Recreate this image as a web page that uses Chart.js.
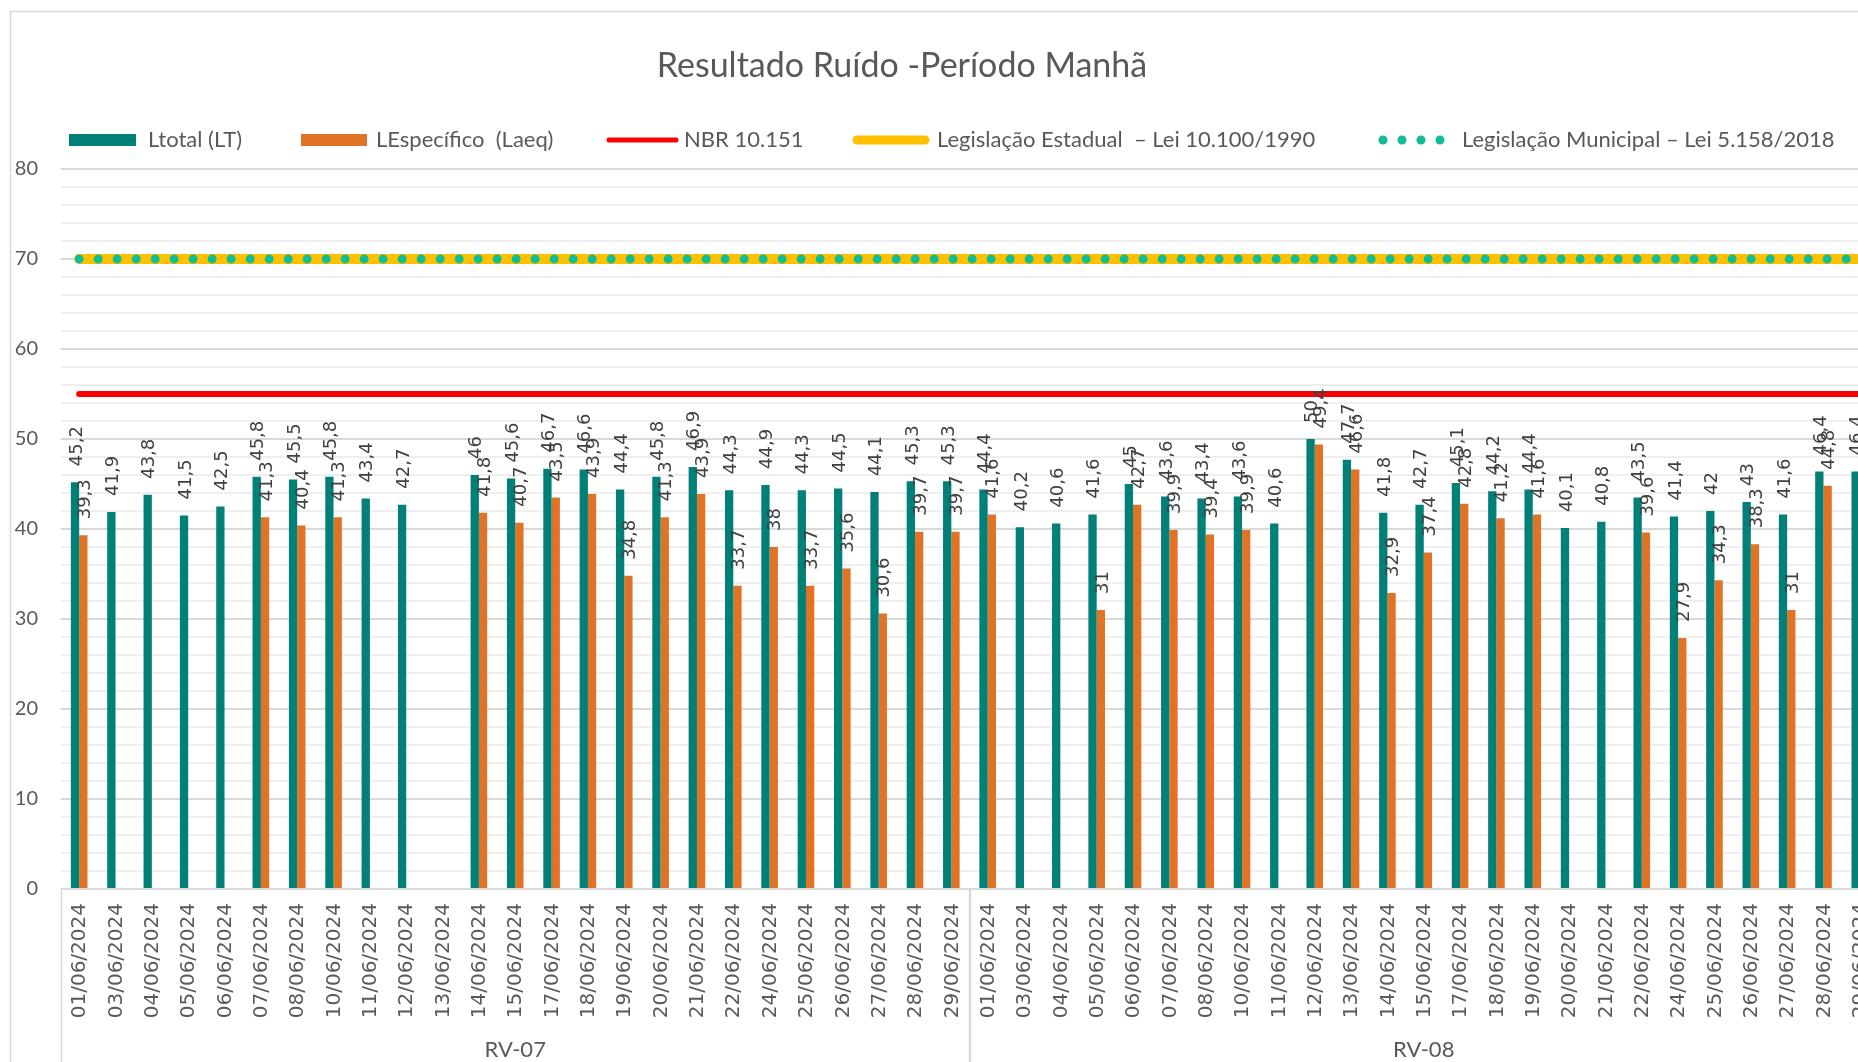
<!DOCTYPE html>
<html lang="pt-BR">
<head>
<meta charset="utf-8">
<title>Resultado Ruído - Período Manhã</title>
<script src="https://cdn.jsdelivr.net/npm/chart.js@4.4.1/dist/chart.umd.min.js"></script>
<style>
  html, body { margin: 0; padding: 0; background: #ffffff; overflow: hidden; }
  canvas { display: block; }
</style>
</head>
<body>
<canvas id="chart" width="1900" height="1062"></canvas>
<script>
// ---- Data ---------------------------------------------------------------
const chartTitle = 'Resultado Ruído -Período Manhã';

const groups = ['RV-07', 'RV-08'];

const datesRV07 = ['01/06/2024', '03/06/2024', '04/06/2024', '05/06/2024', '06/06/2024',
  '07/06/2024', '08/06/2024', '10/06/2024', '11/06/2024', '12/06/2024', '13/06/2024',
  '14/06/2024', '15/06/2024', '17/06/2024', '18/06/2024', '19/06/2024', '20/06/2024',
  '21/06/2024', '22/06/2024', '24/06/2024', '25/06/2024', '26/06/2024', '27/06/2024',
  '28/06/2024', '29/06/2024'];

const datesRV08 = ['01/06/2024', '03/06/2024', '04/06/2024', '05/06/2024', '06/06/2024',
  '07/06/2024', '08/06/2024', '10/06/2024', '11/06/2024', '12/06/2024', '13/06/2024',
  '14/06/2024', '15/06/2024', '17/06/2024', '18/06/2024', '19/06/2024', '20/06/2024',
  '21/06/2024', '22/06/2024', '24/06/2024', '25/06/2024', '26/06/2024', '27/06/2024',
  '28/06/2024', '29/06/2024'];

// Ltotal (LT), dB(A)
const ltotalRV07 = [45.2, 41.9, 43.8, 41.5, 42.5, 45.8, 45.5, 45.8, 43.4, 42.7, null,
  46, 45.6, 46.7, 46.6, 44.4, 45.8, 46.9, 44.3, 44.9, 44.3, 44.5, 44.1, 45.3, 45.3];
const ltotalRV08 = [44.4, 40.2, 40.6, 41.6, 45, 43.6, 43.4, 43.6, 40.6, 50, 47.7,
  41.8, 42.7, 45.1, 44.2, 44.4, 40.1, 40.8, 43.5, 41.4, 42, 43, 41.6, 46.4, 46.4];

// LEspecífico (Laeq), dB(A)
const laeqRV07 = [39.3, null, null, null, null, 41.3, 40.4, 41.3, null, null, null,
  41.8, 40.7, 43.5, 43.9, 34.8, 41.3, 43.9, 33.7, 38, 33.7, 35.6, 30.6, 39.7, 39.7];
const laeqRV08 = [41.6, null, null, 31, 42.7, 39.9, 39.4, 39.9, null, 49.4, 46.6,
  32.9, 37.4, 42.8, 41.2, 41.6, null, null, 39.6, 27.9, 34.3, 38.3, 31, 44.8, 44.8];

// Reference limits, dB(A)
const nbrLimit = 55;        // NBR 10.151
const stateLimit = 70;      // Lei 10.100/1990
const municipalLimit = 70;  // Lei 5.158/2018

const yTickLabels = [0, 10, 20, 30, 40, 50, 60, 70, 80];

// ---- Derived tables -----------------------------------------------------
const categories = datesRV07.concat(datesRV08);
const groupSizes = [datesRV07.length, datesRV08.length];
const ltotal = ltotalRV07.concat(ltotalRV08);
const laeq = laeqRV07.concat(laeqRV08);
// a limit holds the same value on every date
const limitSeries = v => categories.map(() => v);

// ---- Styles -------------------------------------------------------------
const TEXT = '#595959';
const LABEL = '#404040';
const TEAL = '#008077';
const ORANGE = '#E07325';
const RED = '#FF0000';
const GOLD = '#FFC000';
const MINT = '#10BE96';

const fmt = v => String(v).replace('.', ',');

// Outer chart frame
const framePlugin = {
  id: 'frame',
  beforeDraw(chart) {
    const { ctx } = chart;
    ctx.save();
    ctx.fillStyle = '#ffffff';
    ctx.fillRect(0, 0, chart.width, chart.height);
    ctx.strokeStyle = '#d9d9d9';
    ctx.lineWidth = 1.5;
    ctx.strokeRect(10.5, 11.5, chart.width + 40, chart.height + 40);
    ctx.restore();
  }
};

// Title and legend row
const headerPlugin = {
  id: 'header',
  afterDraw(chart) {
    const { ctx } = chart;
    ctx.save();
    ctx.fillStyle = TEXT;
    ctx.font = '34px Lato';
    ctx.textAlign = 'center';
    ctx.textBaseline = 'alphabetic';
    ctx.fillText(chartTitle, 902, 77);

    const ly = 140;
    const ds = chart.data.datasets;
    const items = [
      { kind: 'box', x0: 69, x1: 136, color: ds[0].backgroundColor, tx: 148, text: ds[0].label },
      { kind: 'box', x0: 301, x1: 367, color: ds[1].backgroundColor, tx: 376, text: ds[1].label },
      { kind: 'line', x0: 609, x1: 676, w: 5, color: ds[2].borderColor, tx: 684, text: ds[2].label },
      { kind: 'line', x0: 857, x1: 925, w: 9, color: ds[3].borderColor, tx: 937, text: ds[3].label },
      { kind: 'dots', x0: 1383, step: 19, n: 4, r: 4.5, color: ds[4].borderColor, tx: 1462, text: ds[4].label }
    ];
    items.forEach(it => {
      if (it.kind === 'box') {
        ctx.fillStyle = it.color;
        ctx.fillRect(it.x0, ly - 6, it.x1 - it.x0, 12);
      } else if (it.kind === 'line') {
        ctx.strokeStyle = it.color;
        ctx.lineWidth = it.w;
        ctx.lineCap = 'round';
        ctx.beginPath();
        ctx.moveTo(it.x0, ly);
        ctx.lineTo(it.x1, ly);
        ctx.stroke();
      } else {
        ctx.fillStyle = it.color;
        for (let k = 0; k < it.n; k++) {
          ctx.beginPath();
          ctx.arc(it.x0 + k * it.step, ly, it.r, 0, Math.PI * 2);
          ctx.fill();
        }
      }
      ctx.fillStyle = TEXT;
      ctx.font = '22px Lato';
      ctx.textAlign = 'left';
      ctx.textBaseline = 'middle';
      ctx.fillText(it.text, it.tx, ly);
    });
    ctx.restore();
  }
};

// Rotated value labels above each bar
const valueLabelPlugin = {
  id: 'valueLabels',
  afterDatasetsDraw(chart) {
    const { ctx } = chart;
    ctx.save();
    ctx.fillStyle = LABEL;
    ctx.font = '18px "DejaVu Sans"';
    ctx.textAlign = 'left';
    ctx.textBaseline = 'middle';
    [0, 1].forEach(di => {
      const values = chart.data.datasets[di].data;
      chart.getDatasetMeta(di).data.forEach((bar, j) => {
        const v = values[j];
        if (v === null || v === undefined) return;
        ctx.save();
        ctx.translate(bar.x + 2, bar.y - 16);
        ctx.rotate(-Math.PI / 2);
        ctx.fillText(fmt(v), 0, 0);
        ctx.restore();
      });
    });
    ctx.restore();
  }
};

// Two-level category axis: rotated dates, then group names with separators
const categoryAxisPlugin = {
  id: 'categoryAxis',
  afterDraw(chart) {
    const { ctx } = chart;
    const xs = chart.scales.x;
    const step = xs.getPixelForValue(1) - xs.getPixelForValue(0);
    const top = chart.chartArea.bottom;
    ctx.save();

    ctx.fillStyle = TEXT;
    ctx.font = '20px "DejaVu Sans"';
    ctx.textAlign = 'right';
    ctx.textBaseline = 'middle';
    categories.forEach((label, i) => {
      ctx.save();
      ctx.translate(xs.getPixelForValue(i) + 1, top + 14);
      ctx.rotate(-Math.PI / 2);
      ctx.fillText(label, 0, 0);
      ctx.restore();
    });

    ctx.strokeStyle = '#d9d9d9';
    ctx.lineWidth = 1.5;
    ctx.font = '22px Lato';
    ctx.textAlign = 'center';
    ctx.textBaseline = 'middle';
    let start = 0;
    groups.forEach((g, gi) => {
      const n = groupSizes[gi];
      const left = xs.getPixelForValue(start) - step / 2;
      const right = xs.getPixelForValue(start + n - 1) + step / 2;
      ctx.beginPath();
      ctx.moveTo(Math.round(left) + 0.5, top);
      ctx.lineTo(Math.round(left) + 0.5, chart.height);
      ctx.moveTo(Math.round(right) + 0.5, top);
      ctx.lineTo(Math.round(right) + 0.5, chart.height);
      ctx.stroke();
      ctx.fillText(g, (left + right) / 2, 1050);
      start += n;
    });
    ctx.restore();
  }
};

function draw() {
  new Chart(document.getElementById('chart'), {
    type: 'bar',
    data: {
      labels: categories,
      datasets: [
        {
          label: 'Ltotal (LT)',
          data: ltotal,
          backgroundColor: TEAL,
          categoryPercentage: 0.457,
          barPercentage: 1,
          order: 4
        },
        {
          label: 'LEspecífico  (Laeq)',
          data: laeq,
          backgroundColor: ORANGE,
          categoryPercentage: 0.457,
          barPercentage: 1,
          order: 5
        },
        {
          type: 'line',
          label: 'NBR 10.151',
          data: limitSeries(nbrLimit),
          borderColor: RED,
          borderWidth: 6,
          borderCapStyle: 'round',
          pointRadius: 0,
          fill: false,
          order: 3
        },
        {
          type: 'line',
          label: 'Legislação Estadual  – Lei 10.100/1990',
          data: limitSeries(stateLimit),
          borderColor: GOLD,
          borderWidth: 10,
          borderCapStyle: 'round',
          pointRadius: 0,
          fill: false,
          order: 2
        },
        {
          type: 'line',
          label: 'Legislação Municipal – Lei 5.158/2018',
          data: limitSeries(municipalLimit),
          borderColor: MINT,
          borderWidth: 9,
          borderCapStyle: 'round',
          borderDash: [0, 19],
          pointRadius: 0,
          fill: false,
          order: 1
        }
      ]
    },
    options: {
      responsive: false,
      animation: false,
      events: [],
      layout: { padding: { top: 169, right: 22, left: 0, bottom: 0 } },
      plugins: {
        legend: { display: false },
        title: { display: false },
        tooltip: { enabled: false }
      },
      scales: {
        x: {
          type: 'category',
          offset: true,
          grid: { display: false, drawTicks: false },
          border: { display: false },
          ticks: { display: false, autoSkip: false },
          afterFit(s) { s.height = 173; }
        },
        y: {
          min: 0,
          max: 80,
          border: { display: false },
          grid: {
            drawTicks: false,
            color: c => (yTickLabels.includes(c.tick.value) ? '#d9d9d9' : '#efefef'),
            lineWidth: 2
          },
          ticks: {
            stepSize: 2,
            autoSkip: false,
            maxTicksLimit: 100,
            padding: 23,
            color: TEXT,
            font: { family: 'Lato', size: 20 },
            callback: v => (yTickLabels.includes(v) ? String(v) : '')
          },
          afterFit(s) { s.width = 61; }
        }
      }
    },
    plugins: [framePlugin, headerPlugin, valueLabelPlugin, categoryAxisPlugin]
  });
}

Promise.all([
  document.fonts.load('20px Lato'),
  document.fonts.load('18px "DejaVu Sans"')
]).then(draw, draw);
</script>
</body>
</html>
